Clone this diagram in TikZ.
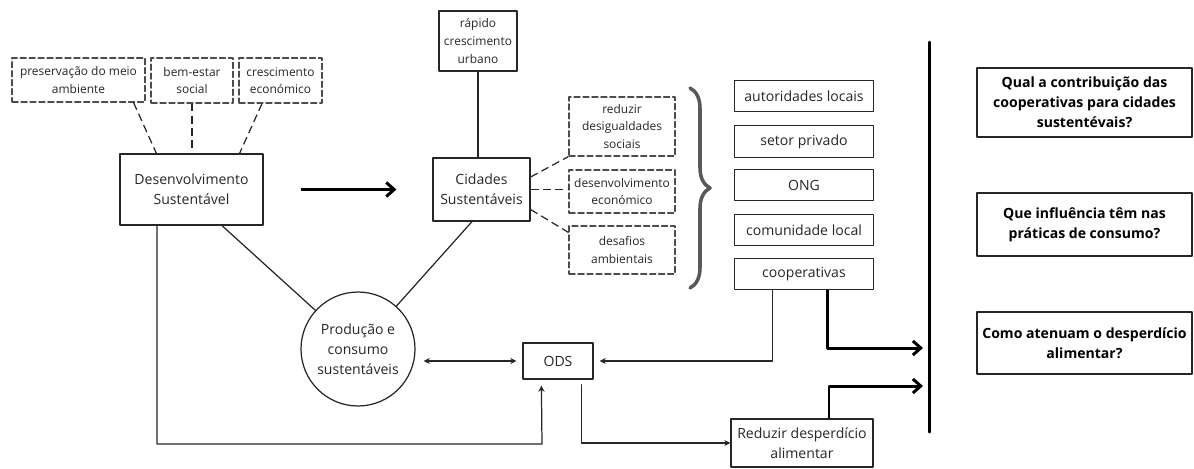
\documentclass[tikz,border=0pt]{standalone}
\usepackage{fontspec}
\setmainfont{Open Sans}
\usetikzlibrary{arrows.meta,decorations.pathreplacing,positioning}

\begin{document}
\begin{tikzpicture}[line cap=round,line join=round,>={Stealth[length=3.5pt,width=3.5pt]},
		x=0.02cm,y=-0.02cm,
		caixa/.style={draw=black!85,line width=0.7pt,rectangle,align=center,inner sep=1pt,
			text=black!85,font=\fontsize{8}{11.4}\selectfont},
		tracejada/.style={caixa,draw=black!70,line width=0.6pt,dash pattern=on 3.5pt off 1.6pt,
			font=\fontsize{6.8}{9.8}\selectfont},
		pergunta/.style={caixa,text=black,font=\fontsize{8}{11.4}\selectfont\bfseries},
		liga/.style={draw=black!85,line width=0.7pt},
		ligatrac/.style={liga,dash pattern=on 4.5pt off 2.5pt,line cap=butt},
		grossa/.style={draw=black,line width=1.7pt,line cap=butt,-{Straight Barb[length=4.5pt,width=8pt]}}]
	\useasboundingbox (0,0) rectangle (1194,468);
	% blocos da esquerda
	\node[tracejada,minimum width=2.66cm,minimum height=0.88cm] (pres) at (78.5,80) {preservação do meio\\ambiente};
	\node[tracejada,minimum width=1.64cm,minimum height=0.9cm] (bem) at (192,80.5) {bem-estar\\social};
	\node[tracejada,minimum width=1.66cm,minimum height=0.9cm] (cresc) at (280.5,80.5) {crescimento\\económico};
	\node[caixa,minimum width=2.86cm,minimum height=1.42cm] (ds) at (191.5,189.5) {Desenvolvimento\\Sustentável};
	% cidades
	\node[caixa,font=\fontsize{6.8}{10}\selectfont,minimum width=1.56cm,minimum height=1.2cm] (rapido) at (478,41) {rápido\\crescimento\\urbano};
	\node[caixa,minimum width=1.94cm,minimum height=1.26cm] (cs) at (481.5,189.5) {Cidades\\Sustentáveis};
	\node[tracejada,minimum width=2.12cm,minimum height=1.18cm] (reduz) at (622,126.5) {reduzir\\desigualdades\\sociais};
	\node[tracejada,minimum width=2.12cm,minimum height=0.86cm] (desenv) at (622,191.5) {desenvolvimento\\económico};
	\node[tracejada,minimum width=2.12cm,minimum height=0.96cm] (desaf) at (622,250) {desafios\\ambientais};
	% atores
	\foreach \nome/\y/\txt in {aut/96/autoridades locais,setor/141.5/setor privado,ong/185/ONG,
		com/230/comunidade local,coop/274/cooperativas}
		\node[caixa,minimum width=2.78cm,minimum height=0.63cm] (\nome) at (804,\y) {\txt};
	% perguntas
	\node[pergunta,minimum width=4.3cm,minimum height=1.38cm] (q1) at (1084.5,102.5) {Qual a contribuição das\\cooperativas para cidades\\sustentévais?};
	\node[pergunta,minimum width=4.3cm,minimum height=1.26cm] (q2) at (1084.5,224.5) {Que influência têm nas\\práticas de consumo?};
	\node[pergunta,minimum width=4.3cm,minimum height=1.24cm] (q3) at (1084.5,343) {Como atenuam o desperdício\\alimentar?};
	% parte de baixo
	\node[caixa,circle,minimum size=2.28cm] (prod) at (358,349) {Produção e\\consumo\\sustentáveis};
	\node[caixa,minimum width=1.4cm,minimum height=0.72cm] (ods) at (558,361) {ODS};
	\node[caixa,minimum width=2.84cm,minimum height=0.96cm] (redu) at (802,443) {Reduzir desperdício\\alimentar};
	\coordinate (volta) at (542,444);
	\coordinate (chave1) at (690,88);
	\coordinate (chave2) at (690,288);
	\coordinate (barra1) at (929,42);
	\coordinate (barra2) at (929,432);
	\coordinate (ent1) at (923,348);
	\coordinate (ent2) at (923,386);

	\draw[ligatrac] ([xshift=-0.24cm]pres.south east) -- ([xshift=0.74cm]ds.north west);
	\draw[ligatrac] (bem.south) -- (bem.south |- ds.north);
	\draw[ligatrac] ([xshift=-0.37cm]cresc.south) -- ([xshift=-0.48cm]ds.north east);
	\draw[grossa] ([xshift=0.74cm]ds.east) -- ([xshift=-0.72cm]cs.west); %seta principal
	\draw[liga] (rapido.south) -- (rapido.south |- cs.north);
	\draw[ligatrac] ([yshift=0.25cm]cs.east) -- (reduz.south west);
	\draw[ligatrac] (cs.east) -- (desenv.west |- cs.east);
	\draw[ligatrac] ([yshift=-0.4cm]cs.east) -- ([yshift=-0.14cm]desaf.north west);
	\draw[decorate,decoration={brace,amplitude=0.4cm},line width=2pt,black!65] (chave1) -- (chave2);
	\draw[line width=1.7pt] (barra1) -- (barra2); %barra vertical
	\draw[liga] ([xshift=0.61cm]ds.south) -- (prod);
	\draw[liga] ([xshift=-0.19cm]cs.south) -- (prod);
	\draw[liga,->] ([xshift=-0.69cm]ds.south) |- (volta) -- ([xshift=0.38cm,yshift=-0.12cm]ods.south west);
	\draw[liga,<->,shorten <=0.16cm,shorten >=0.12cm] (prod.east |- ods.west) -- (ods.west);
	\draw[liga,->] ([xshift=-0.24cm,yshift=-0.1cm]ods.south east) |- (redu.west);
	\draw[liga,->] ([xshift=-0.63cm]coop.south) |- ([xshift=0.12cm]ods.east);
	\draw[grossa] ([xshift=0.47cm]coop.south) |- (ent1);
	\draw[grossa] ([xshift=0.54cm]redu.north) |- (ent2);
\end{tikzpicture}
\end{document}
